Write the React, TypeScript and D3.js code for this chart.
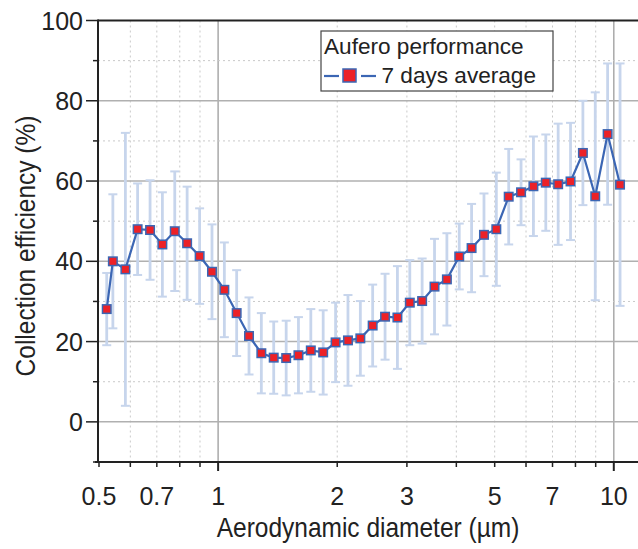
import React from "react";
import * as d3 from "d3";

// APS channel midpoints (µm)
const diameters = [
  0.523, 0.542, 0.583, 0.626, 0.673, 0.723, 0.777, 0.835, 0.898, 0.965,
  1.037, 1.114, 1.197, 1.286, 1.382, 1.486, 1.596, 1.715, 1.843, 1.981,
  2.129, 2.288, 2.458, 2.642, 2.839, 3.051, 3.278, 3.523, 3.786, 4.068,
  4.371, 4.698, 5.048, 5.425, 5.829, 6.264, 6.732, 7.234, 7.774, 8.354,
  8.977, 9.647, 10.37,
];

// 7 days average collection efficiency (%)
const efficiency = [
  28.1, 40.0, 38.0, 48.0, 47.8, 44.2, 47.5, 44.5, 41.3, 37.4,
  32.9, 27.1, 21.4, 17.1, 16.0, 15.9, 16.6, 17.8, 17.3, 19.8,
  20.3, 20.8, 24.0, 26.2, 26.0, 29.7, 30.1, 33.7, 35.5, 41.2,
  43.3, 46.6, 48.0, 56.1, 57.2, 58.7, 59.6, 59.2, 59.9, 67.0,
  56.2, 71.7, 59.1,
];

// standard deviation (%)
const stdDev = [
  9.0, 16.7, 34.0, 11.4, 12.4, 13.0, 14.9, 14.1, 11.9, 11.8,
  11.8, 10.7, 9.6, 10.0, 9.0, 9.3, 9.5, 10.3, 10.5, 9.9,
  11.3, 9.3, 10.2, 10.7, 12.8, 10.6, 10.6, 11.9, 11.5, 8.2,
  11.0, 10.3, 14.1, 11.9, 8.2, 12.4, 12.0, 15.1, 14.6, 13.0,
  25.9, 17.6, 30.2,
];

const xTickLabels = [0.5, 0.7, 1, 2, 3, 5, 7, 10];
const xMinorTicks = [0.5, 0.6, 0.7, 0.8, 0.9, 2, 3, 4, 5, 6, 7, 8, 9];
const xMajorTicks = [1, 10];
const yMajorTicks = [0, 20, 40, 60, 80, 100];
const yMinorTicks = [-10, 10, 30, 50, 70, 90];

const FONT = "'Liberation Sans', Arial, Helvetica, sans-serif";
const BLUE = "#3b66b4";
const RED = "#ec2127";
const ERR = "#c7d5ec";

const W = 638;
const H = 549;
const left = 98;
const right = 638;
const top = 20.5;
const bottom = 462;

function StretchText({ x, y, rotate = 0, size, sy = 1, anchor = "start", children }) {
  return (
    <text
      transform={`translate(${x},${y}) rotate(${rotate}) scale(1,${sy})`}
      fontSize={size}
      textAnchor={anchor}
      fontFamily={FONT}
      fill="#222"
    >
      {children}
    </text>
  );
}

export default function App() {
  const x = d3.scaleLog().domain([0.5, 10]).range([99, 613.8]);
  const y = d3.scaleLinear().domain([-10, 100]).range([bottom, top]);

  const pts = diameters.map((d, i) => ({ d, m: efficiency[i], s: stdDev[i] }));
  const line = d3
    .line<{ d: number; m: number }>()
    .x((p) => x(p.d))
    .y((p) => y(p.m));

  const mk = 8.5;

  return (
    <svg
      width={W}
      height={H}
      style={{ position: "absolute", left: 0, top: 0, background: "#fff" }}
    >
      {/* grid */}
      <g>
        {xMinorTicks.filter((t) => t !== 0.5).map((t) => (
          <line key={"gx" + t} x1={x(t)} x2={x(t)} y1={top} y2={bottom}
            stroke="#c9c9c9" strokeWidth={1} strokeDasharray="2,3" />
        ))}
        {xMajorTicks.map((t) => (
          <line key={"GX" + t} x1={x(t)} x2={x(t)} y1={top} y2={bottom}
            stroke="#a9a9a9" strokeWidth={1.5} />
        ))}
        {yMinorTicks.filter((t) => t !== -10).map((t) => (
          <line key={"gy" + t} x1={left} x2={right} y1={y(t)} y2={y(t)}
            stroke="#c9c9c9" strokeWidth={1} strokeDasharray="2,3" />
        ))}
        {yMajorTicks.filter((t) => t !== 100).map((t) => (
          <line key={"GY" + t} x1={left} x2={right} y1={y(t)} y2={y(t)}
            stroke="#b0b0b0" strokeWidth={1.5} />
        ))}
      </g>

      {/* error bars */}
      <g stroke={ERR}>
        {pts.map((p, i) => (
          <g key={"e" + i}>
            <line x1={x(p.d)} x2={x(p.d)} y1={y(p.m - p.s)} y2={y(p.m + p.s)} strokeWidth={2.8} />
            <line x1={x(p.d) - 4.5} x2={x(p.d) + 4.5} y1={y(p.m + p.s)} y2={y(p.m + p.s)} strokeWidth={2} />
            <line x1={x(p.d) - 4.5} x2={x(p.d) + 4.5} y1={y(p.m - p.s)} y2={y(p.m - p.s)} strokeWidth={2} />
          </g>
        ))}
      </g>

      {/* series */}
      <path d={line(pts) || ""} fill="none" stroke={BLUE} strokeWidth={2.2} />
      {pts.map((p, i) => (
        <rect key={"m" + i} x={x(p.d) - mk / 2} y={y(p.m) - mk / 2} width={mk} height={mk}
          fill={RED} stroke={BLUE} strokeWidth={1.5} />
      ))}

      {/* axes */}
      <line x1={left} x2={right} y1={top} y2={top} stroke="#222" strokeWidth={2} />
      <line x1={left} x2={left} y1={top - 1} y2={bottom + 1} stroke="#222" strokeWidth={2} />
      <line x1={left - 3} x2={right} y1={bottom} y2={bottom} stroke="#222" strokeWidth={2} />

      {yMajorTicks.map((t) => (
        <g key={"ty" + t}>
          <line x1={left - 12} x2={left} y1={y(t)} y2={y(t)} stroke="#222" strokeWidth={1.5} />
          <text x={83} y={y(t)} dy="0.36em" fontSize={25} textAnchor="end" fontFamily={FONT} fill="#222">
            {t}
          </text>
        </g>
      ))}
      {yMinorTicks.map((t) => (
        <line key={"tym" + t} x1={left - 5} x2={left} y1={y(t)} y2={y(t)} stroke="#222" strokeWidth={1.5} />
      ))}
      {xMajorTicks.map((t) => (
        <line key={"tx" + t} x1={x(t)} x2={x(t)} y1={bottom} y2={bottom + 9} stroke="#222" strokeWidth={2} />
      ))}
      {xMinorTicks.map((t) => (
        <line key={"txm" + t} x1={x(t)} x2={x(t)} y1={bottom} y2={bottom + 5} stroke="#222" strokeWidth={1.5} />
      ))}
      {xTickLabels.map((t) => (
        <text key={"lx" + t} x={x(t)} y={505} fontSize={25} textAnchor="middle" fontFamily={FONT} fill="#222">
          {t}
        </text>
      ))}

      <StretchText x={368} y={537} size={24.5} sy={1.13} anchor="middle">
        Aerodynamic diameter (µm)
      </StretchText>
      <StretchText x={35} y={246} rotate={-90} size={24.5} sy={1.13} anchor="middle">
        Collection efficiency (%)
      </StretchText>

      {/* legend */}
      <g>
        <rect x={321} y={31} width={232} height={60} fill="#fff" stroke="#444" strokeWidth={1.2} />
        <text x={324} y={54} fontSize={22.6} fontFamily={FONT} fill="#222">Aufero performance</text>
        <line x1={324} x2={339} y1={76} y2={76} stroke={BLUE} strokeWidth={2.2} />
        <line x1={361} x2={376} y1={76} y2={76} stroke={BLUE} strokeWidth={2.2} />
        <rect x={343} y={69} width={13} height={13} fill={RED} stroke={BLUE} strokeWidth={1.5} />
        <text x={381.5} y={83} fontSize={22.6} fontFamily={FONT} fill="#222">7 days average</text>
      </g>
    </svg>
  );
}
